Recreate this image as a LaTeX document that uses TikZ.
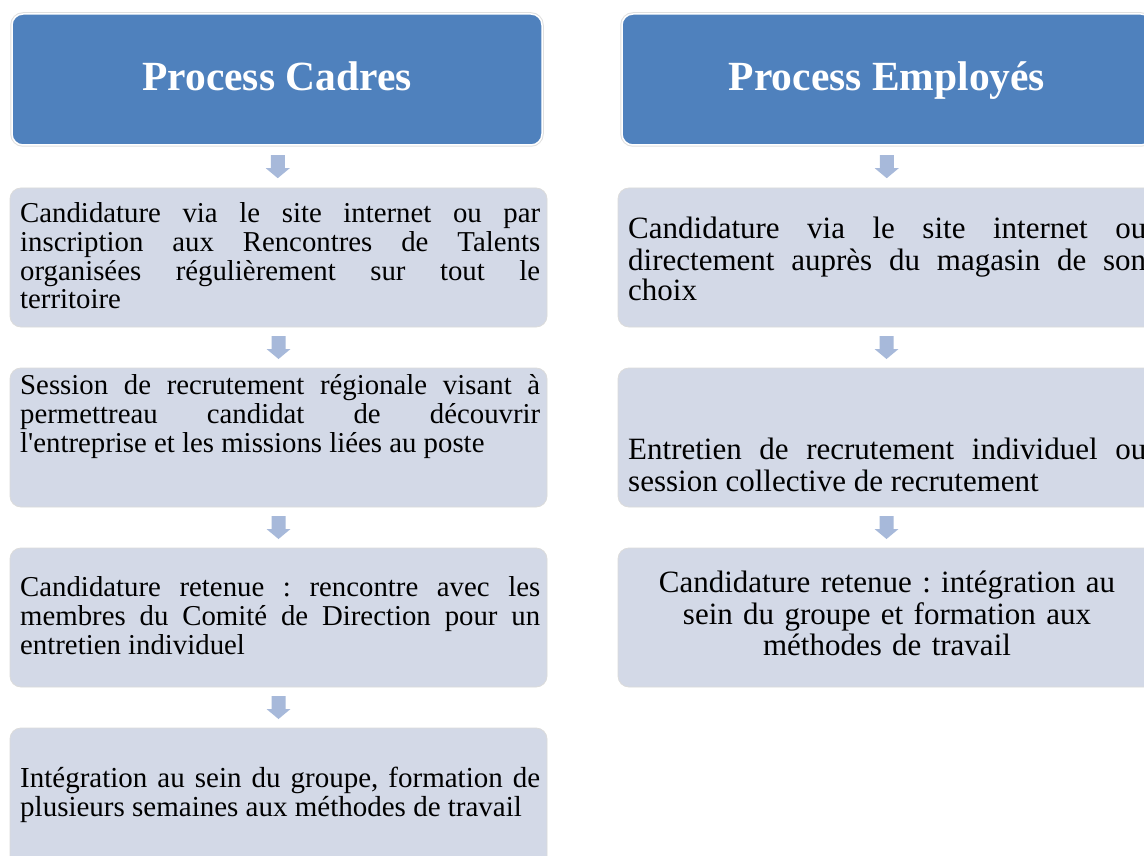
\documentclass[tikz,border=0pt]{standalone}
\usepackage{fontspec}
\setmainfont{Liberation Serif}[Ligatures=TeXOff]
\usetikzlibrary{calc}
\tolerance=10000
\hbadness=10000
\hyphenpenalty=10000
\frenchspacing
\definecolor{hdr}{HTML}{4F81BD}
\definecolor{bodyc}{RGB}{211,217,231}
\definecolor{arrc}{RGB}{167,185,218}
\newcommand{\blockarrow}[2]{%
  \fill[arrc] ($(#1.south)!0.5!(#2.north)$) ++(-7,-11.5) -- ++(14,0) -- ++(0,13)
    -- ++(5,0) -- ++(-12,10) -- ++(-12,-10) -- ++(5,0) -- cycle;}
\tikzset{
  hdrbox/.style={rectangle, rounded corners=11pt, fill=hdr, draw=white, line width=1.5pt,
    minimum width=530pt, minimum height=131pt, inner sep=0pt,
    preaction={draw=black!12, line width=3.5pt}},
  stepbox/.style={rectangle, rounded corners=11pt, fill=bodyc, draw=black!14, line width=0.8pt,
    minimum width=537pt, minimum height=139pt, inner sep=0pt},
  hdrtxt/.style={font=\fontsize{41.5}{45}\selectfont\bfseries, text=white, inner sep=0pt, anchor=base},
  ltxt/.style={font=\fontsize{28.8}{28.5}\selectfont\frenchspacing, text width=520pt, align=justify, inner sep=0pt, anchor=north west},
  ltxtb/.style={font=\fontsize{29}{29}\selectfont\frenchspacing, text width=520pt, align=justify, inner sep=0pt, anchor=north west},
  rtxt/.style={font=\fontsize{31}{30}\selectfont\frenchspacing, text width=518pt, align=justify, inner sep=0pt, anchor=north west},
  rtxtc/.style={font=\fontsize{31}{30.5}\selectfont\frenchspacing, text width=518pt, align=center, inner sep=0pt, anchor=north},
}
\begin{document}
\begin{tikzpicture}[x=1pt,y=-1pt]
\useasboundingbox (0,0) rectangle (1144,856);
\clip (0,0) rectangle (1144,856);
\fill[white] (0,0) rectangle (1144,856);

% left column
\node[hdrbox] (h1) at (277,79.5) {};
\node[hdrtxt] (ht1) at (277,91) {Process Cadres};
\node[stepbox] (a1) at (278.5,257.5) {};
\node[stepbox] (a2) at (278.5,437.5) {};
\node[stepbox] (a3) at (278.5,617.5) {};
\node[stepbox] (a4) at (278.5,797.5) {};

\node[ltxt] (ta1) at (20,202) {\strut Candidature via le site internet ou par\linebreak inscription aux Rencontres de Talents\linebreak organisées régulièrement sur tout le\linebreak territoire};
\node[ltxt] (ta2) at (20,374) {\strut Session de recrutement régionale visant à\linebreak permettreau candidat de découvrir\linebreak l'entreprise et les missions liées au poste};
\node[ltxt] (ta3) at (20,576) {\strut Candidature retenue : rencontre avec les\linebreak membres du Comité de Direction pour un\linebreak entretien individuel};
\node[ltxtb] (ta4) at (20,767) {\strut Intégration au sein du groupe, formation de\linebreak plusieurs semaines aux méthodes de travail};

\blockarrow{h1}{a1}
\blockarrow{a1}{a2}
\blockarrow{a2}{a3}
\blockarrow{a3}{a4}

% right column
\node[hdrbox] (h2) at (887,79.5) {};
\node[hdrtxt] (ht2) at (887,91) {Process Employés};
\node[stepbox] (b1) at (886.5,257.5) {};
\node[stepbox] (b2) at (886.5,437.5) {};
\node[stepbox] (b3) at (886.5,617.5) {};

\node[rtxt] (tb1) at (628,217) {\strut Candidature via le site internet ou\linebreak directement auprès du magasin de son\linebreak choix};
\node[rtxt] (tb2) at (628,438) {\strut Entretien de recrutement  individuel ou\linebreak session collective de recrutement};
\node[rtxtc] (tb3) at (887,571) {\strut Candidature retenue : intégration au\\ sein du groupe et formation aux\\ méthodes de travail};

\blockarrow{h2}{b1}
\blockarrow{b1}{b2}
\blockarrow{b2}{b3}
\end{tikzpicture}
\end{document}
